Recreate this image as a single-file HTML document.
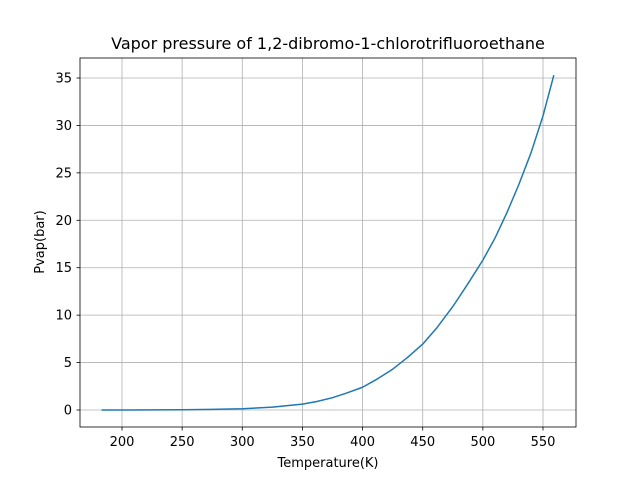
<!DOCTYPE html>
<html><head><meta charset="utf-8"><style>
body{margin:0;background:#fff}
svg text{font-family:"DejaVu Sans","Liberation Sans",sans-serif;fill:#000}
</style></head><body>
<svg id="c" width="640" height="480" viewBox="0 0 640 480">
<rect width="640" height="480" fill="#fff"/>
<text x="328" y="49" font-size="16" text-anchor="middle">Vapor pressure of 1,2-dibromo-1-chlorotrifluoroethane</text>
<g id="grid"></g>
<g id="ticks"></g>
<polyline id="line" fill="none" stroke="#1f77b4" stroke-width="1.5" stroke-linejoin="round"/>
<rect x="80" y="58" width="496" height="369" fill="none" stroke="#000" stroke-width="0.8"/>
<text x="328" y="467" font-size="13" text-anchor="middle">Temperature(K)</text>
<text x="44" y="242" font-size="13" text-anchor="middle" transform="rotate(-90 44 242)">Pvap(bar)</text>
</svg>
<script>
const temps=[183,200,225,250,275,300,325,350,362,375,387,400,412,425,437,450,462,475,487,500,510,520,530,540,550,559];
const pvap=[0,0.002,0.008,0.025,0.06,0.13,0.3,0.62,0.9,1.3,1.8,2.4,3.25,4.3,5.5,6.95,8.7,10.9,13.2,15.8,18.1,20.8,23.8,27.1,31.0,35.3];
const xTicks=[200,250,300,350,400,450,500,550];
const yTicks=[0,5,10,15,20,25,30,35];
const NS="http://www.w3.org/2000/svg";
const xs=t=>122+(t-200)*(543-122)/350;
const ys=p=>410-p*(410-78)/35;
const grid=document.getElementById('grid'),ticks=document.getElementById('ticks');
function mk(tag,attrs,parent){const e=document.createElementNS(NS,tag);for(const k in attrs)e.setAttribute(k,attrs[k]);parent.appendChild(e);return e;}
xTicks.forEach(t=>{
 const x=xs(t);
 const g=mk('line',{x1:x,x2:x,y1:58,y2:427,stroke:'#b0b0b0','stroke-width':0.8},grid);
 
 
 const tk=mk('line',{x1:x,x2:x,y1:427,y2:430.5,stroke:'#000','stroke-width':0.8},ticks);
 
 
 const tx=mk('text',{x:x,y:446,'font-size':13,'text-anchor':'middle'},ticks);
 tx.textContent=t;
 
 
});
yTicks.forEach(v=>{
 const y=ys(v);
 const g=mk('line',{x1:80,x2:576,y1:y,y2:y,stroke:'#b0b0b0','stroke-width':0.8},grid);
 
 
 const tk=mk('line',{x1:76.5,x2:80,y1:y,y2:y,stroke:'#000','stroke-width':0.8},ticks);
 
 
 const tx=mk('text',{x:72,y:y+4.5,'font-size':13,'text-anchor':'end'},ticks);
 tx.textContent=v;
 
 
});
document.getElementById('line').setAttribute('points',temps.map((t,i)=>xs(t)+','+ys(pvap[i])).join(' '));
</script>
</body></html>
